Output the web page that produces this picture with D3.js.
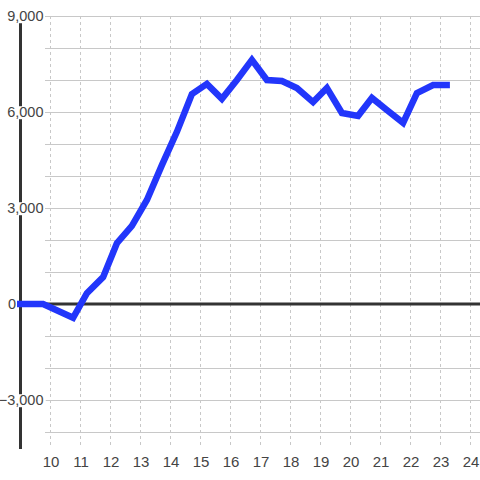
<!DOCTYPE html>
<html><head><meta charset="utf-8">
<script src="https://cdn.jsdelivr.net/npm/d3@7"></script>
<style>body{margin:0;background:#fff}svg{display:block}text{font-family:"Liberation Sans",Arial,sans-serif}</style>
</head><body><svg id="c" width="480" height="480"></svg>
<script>
const xValues = [8.9, 9.77, 10.77, 11.23, 11.77, 12.23, 12.73, 13.23, 13.73, 14.23, 14.73, 15.23, 15.73, 16.23, 16.73, 17.23, 17.73, 18.23, 18.77, 19.23, 19.73, 20.27, 20.73, 21.27, 21.77, 22.23, 22.77, 23.33];
const yValues = [0, 0, -430, 340, 840, 1900, 2440, 3250, 4340, 5380, 6560, 6880, 6410, 7000, 7630, 7000, 6970, 6750, 6310, 6750, 5970, 5880, 6440, 6030, 5660, 6590, 6840, 6840];
const xTicks = [10,11,12,13,14,15,16,17,18,19,20,21,22,23,24];
const yTicks = [-3000, 0, 3000, 6000, 9000];
const yGrid = [-4000,-3000,-2000,-1000,0,1000,2000,3000,4000,5000,6000,7000,8000,9000];

const svg = d3.select("#c");
const x = d3.scaleLinear().domain([9, 24 + 1/3]).range([20, 480]);
const y = d3.scaleLinear().domain([-4500, 9000]).range([448, 16]);

// horizontal grid
svg.append("g").selectAll("line").data(yGrid).join("line")
  .attr("x1", 45).attr("x2", 480)
  .attr("y1", d => y(d)).attr("y2", d => y(d))
  .attr("stroke", "#c8c8c8").attr("stroke-width", 1).attr("shape-rendering","crispEdges");
// vertical dotted grid
svg.append("g").selectAll("line").data(xTicks).join("line")
  .attr("x1", d => Math.round(x(d))+0.5).attr("x2", d => Math.round(x(d))+0.5)
  .attr("y1", 16).attr("y2", 448)
  .attr("stroke", "#c8c8c8").attr("stroke-width", 1).attr("stroke-dasharray", "3,3");

// y axis line
svg.append("line").attr("x1", 20.5).attr("x2", 20.5).attr("y1", 16).attr("y2", 449)
  .attr("stroke", "#333").attr("stroke-width", 3);
// zero line
svg.append("line").attr("x1", 20).attr("x2", 480).attr("y1", y(0)).attr("y2", y(0))
  .attr("stroke", "#333").attr("stroke-width", 3);

// y labels with background
const yl = svg.append("g").selectAll("g").data(yTicks).join("g");
yl.append("text")
  .attr("x", d => d === 0 ? 8 : 43.5).attr("y", d => y(d)).attr("dy", "0.36em")
  .attr("text-anchor", d => d === 0 ? "start" : "end").attr("font-size", 14.5).attr("fill", "#444")
  .text(d => d3.format(",")(d));
yl.each(function(d){
  if (d === 0) return;
  const g = d3.select(this);
  const b = g.select("text").node().getBBox();
  g.insert("rect", "text").attr("x", Math.max(0, b.x - 1)).attr("y", b.y + 2).attr("width", b.width + 1).attr("height", b.height - 3).attr("fill", "#fff");
});

// x labels
svg.append("g").selectAll("text").data(xTicks).join("text")
  .attr("x", d => x(d) + 1).attr("y", 467)
  .attr("text-anchor", "middle").attr("font-size", 15).attr("fill", "#444")
  .text(d => d);

// line
const line = d3.line().x((d,i) => x(xValues[i])).y(d => y(d));
svg.append("path").datum(yValues).attr("d", line)
  .attr("fill", "none").attr("stroke", "#2236fb").attr("stroke-width", 6.5)
  .attr("stroke-linejoin", "miter").attr("stroke-linecap", "butt");
</script></body></html>
